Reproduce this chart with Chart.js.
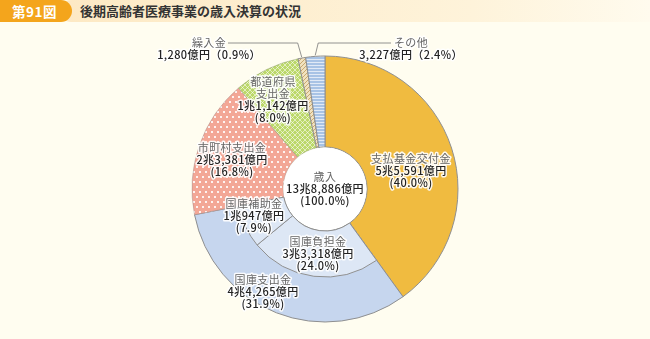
<!DOCTYPE html>
<html lang="ja">
<head>
<meta charset="utf-8">
<script src="https://cdn.jsdelivr.net/npm/chart.js@4.4.1/dist/chart.umd.min.js"></script>
<style>
  body { margin: 0; background: #fffdf0; font-family: "Noto Sans CJK JP", sans-serif; }
  #wrap { position: relative; width: 650px; height: 339px; overflow: hidden; }
  .band { position: absolute; left: 60px; top: 0; width: 590px; height: 22px;
          background: linear-gradient(to right, #fde9c4, #fef3da 70%, #fffbee); border-radius: 11px 0 0 11px; }
  .tab { position: absolute; left: 0; top: 0; width: 72px; height: 22px; background: #f4a51c;
         border-radius: 0 11px 11px 0; color: #fff; font-size: 13.5px; font-weight: bold;
         line-height: 22px; padding-left: 12px; box-sizing: border-box; letter-spacing: 0.5px; }
  .title { position: absolute; left: 80px; top: 0; line-height: 22px; font-size: 13px;
           font-weight: bold; color: #333; }
  canvas { position: absolute; left: 0; top: 0; }
</style>
</head>
<body>
<div id="wrap">
  <div class="band"></div>
  <div class="tab">第91図</div>
  <div class="title">後期高齢者医療事業の歳入決算の状況</div>
  <canvas id="outerRing" width="650" height="339"></canvas>
  <canvas id="innerRing" width="650" height="339"></canvas>
</div>
<script>
// 歳入の内訳（億円）
const categories = ["支払基金交付金", "国庫支出金", "市町村支出金", "都道府県支出金", "繰入金", "その他"];
const amounts = [55591, 44265, 23381, 11142, 1280, 3227];
const shares = ["40.0", "31.9", "16.8", "8.0", "0.9", "2.4"];

// 国庫支出金の内訳
const kokkoParts = ["国庫負担金", "国庫補助金"];
const kokkoAmounts = [33318, 10947];
const kokkoShares = ["24.0", "7.9"];

const totalName = "歳入";
const totalShare = "100.0";

const FONT = '11px "Noto Sans CJK JP"';
const VALUE_FONT = '500 11px "Noto Sans CJK JP"';
const LINE = 12;

function fmtOku(v) {
    if (v >= 10000) return Math.floor(v / 10000) + "兆" + (v % 10000).toLocaleString("en-US") + "億円";
    return v.toLocaleString("en-US") + "億円";
}

function makePattern(base, w, h, draw) {
    const c = document.createElement("canvas");
    c.width = w; c.height = h;
    const g = c.getContext("2d");
    g.fillStyle = base;
    g.fillRect(0, 0, w, h);
    draw(g);
    return g.createPattern(c, "repeat");
}

const dots = makePattern("#f3a796", 6, 10, g => {
    g.fillStyle = "rgba(255,255,255,0.85)";
    g.fillRect(1, 1, 2, 2);
    g.fillRect(4, 6, 2, 2);
});
const cross = makePattern("#bcd86a", 5, 5, g => {
    g.strokeStyle = "rgba(255,255,255,0.8)";
    g.lineWidth = 0.7;
    g.beginPath();
    g.moveTo(0, 0); g.lineTo(5, 5);
    g.moveTo(5, 0); g.lineTo(0, 5);
    g.stroke();
});
const slant = makePattern("#f1e2c0", 4, 4, g => {
    g.strokeStyle = "#c9a970";
    g.lineWidth = 1;
    g.beginPath();
    g.moveTo(-1, 5); g.lineTo(5, -1);
    g.stroke();
});
const stripes = makePattern("#a8c3e5", 4, 3, g => {
    g.fillStyle = "rgba(255,255,255,0.65)";
    g.fillRect(0, 2, 4, 1);
});

const outerColors = ["#f0bb40", "#c6d6ee", dots, cross, slant, stripes];
const outerBorders = ["#8f8f8f", "#8f8f8f", "rgba(160,140,140,0.45)", "rgba(140,150,120,0.45)", "#8f8f8f", "#8f8f8f"];
const kokkoColor = "#dde7f5";
const clear = "rgba(0,0,0,0)";

// 文字の配置
const labelSpots = [
    { x: 411, y: 159 },
    { x: 263, y: 280 },
    { x: 232, y: 148 },
    { x: 273, y: 82, split: 4 },
    { x: 209, y: 43, oneLine: true },
    { x: 411, y: 43, oneLine: true }
];
const kokkoSpots = [
    { x: 318, y: 242 },
    { x: 254, y: 204 }
];
const centerSpot = { x: 325, y: 177 };

function haloText(ctx, text, x, y, color) {
    ctx.lineWidth = 3;
    ctx.lineJoin = "round";
    ctx.strokeStyle = "rgba(255,255,255,0.9)";
    ctx.strokeText(text, x, y);
    ctx.fillStyle = color;
    ctx.fillText(text, x, y);
}

const whiteHole = {
    id: "whiteHole",
    afterDatasetsDraw(chart) {
        const arc = chart.getDatasetMeta(0).data[0];
        const ctx = chart.ctx;
        ctx.save();
        ctx.beginPath();
        ctx.arc(arc.x, arc.y, arc.innerRadius - 0.5, 0, Math.PI * 2);
        ctx.fillStyle = "#ffffff";
        ctx.fill();
        ctx.restore();
    }
};

const outerChart = new Chart(document.getElementById("outerRing"), {
    type: "doughnut",
    data: {
        labels: categories,
        datasets: [{
            data: amounts,
            backgroundColor: outerColors,
            borderColor: outerBorders,
            borderWidth: 1
        }]
    },
    options: {
        responsive: false,
        animation: false,
        radius: 133,
        cutout: "31.6%",
        layout: { padding: { top: 40, bottom: 1 } },
        plugins: { legend: { display: false }, tooltip: { enabled: false } }
    },
    plugins: [whiteHole]
});

const labelPlugin = {
    id: "labels",
    afterDraw(chart) {
        const ctx = chart.ctx;
        const arcs = outerChart.getDatasetMeta(0).data;
        ctx.save();

        // 引き出し線（繰入金・その他）
        ctx.strokeStyle = "#777";
        ctx.lineWidth = 0.8;
        [[4, -4, 228], [5, 3, 391]].forEach(([i, dx, endX]) => {
            const a = arcs[i];
            const mid = (a.startAngle + a.endAngle) / 2;
            const px = a.x + Math.cos(mid) * (a.outerRadius + 1);
            const py = a.y + Math.sin(mid) * (a.outerRadius + 1);
            const ly = labelSpots[i].y;
            ctx.beginPath();
            ctx.moveTo(px, py);
            ctx.lineTo(px + dx, ly);
            ctx.lineTo(endX, ly);
            ctx.stroke();
        });

        ctx.letterSpacing = "0.4px";
        ctx.textAlign = "center";
        ctx.textBaseline = "middle";

        const nameText = (t, x, y) => { ctx.font = FONT; haloText(ctx, t, x, y, "#666"); };
        const valueText = (t, x, y) => { ctx.font = VALUE_FONT; haloText(ctx, t, x, y, "#222"); };

        categories.forEach((name, i) => {
            const s = labelSpots[i];
            const names = s.split ? [name.slice(0, s.split), name.slice(s.split)] : [name];
            let y = s.y;
            names.forEach(n => { nameText(n, s.x, y); y += LINE; });
            if (s.oneLine) {
                valueText(fmtOku(amounts[i]) + "（" + shares[i] + "%）", s.x, y);
            } else {
                valueText(fmtOku(amounts[i]), s.x, y);
                valueText("(" + shares[i] + "%)", s.x, y + LINE);
            }
        });

        kokkoParts.forEach((name, i) => {
            const s = kokkoSpots[i];
            nameText(name, s.x, s.y);
            valueText(fmtOku(kokkoAmounts[i]), s.x, s.y + LINE);
            valueText("(" + kokkoShares[i] + "%)", s.x, s.y + LINE * 2);
        });

        const total = amounts.reduce((s, v) => s + v, 0);
        nameText(totalName, centerSpot.x, centerSpot.y);
        valueText(fmtOku(total), centerSpot.x, centerSpot.y + LINE);
        valueText("(" + totalShare + "%)", centerSpot.x, centerSpot.y + LINE * 2);
        ctx.restore();
    }
};

// 内側の輪は国庫支出金の部分だけ色を付ける
const innerData = [amounts[0], ...kokkoAmounts, ...amounts.slice(2)];
const innerColors = innerData.map((v, i) => (i === 1 || i === 2) ? kokkoColor : clear);
const innerBorders = innerData.map((v, i) => (i === 1 || i === 2) ? 1 : 0);

new Chart(document.getElementById("innerRing"), {
    type: "doughnut",
    data: {
        labels: [categories[0], ...kokkoParts, ...categories.slice(2)],
        datasets: [{
            data: innerData,
            backgroundColor: innerColors,
            borderColor: "#8f8f8f",
            borderWidth: innerBorders
        }]
    },
    options: {
        responsive: false,
        animation: false,
        radius: 88,
        cutout: "47.7%",
        layout: { padding: { top: 40, bottom: 1 } },
        plugins: { legend: { display: false }, tooltip: { enabled: false } }
    },
    plugins: [labelPlugin]
});
</script>
</body>
</html>
